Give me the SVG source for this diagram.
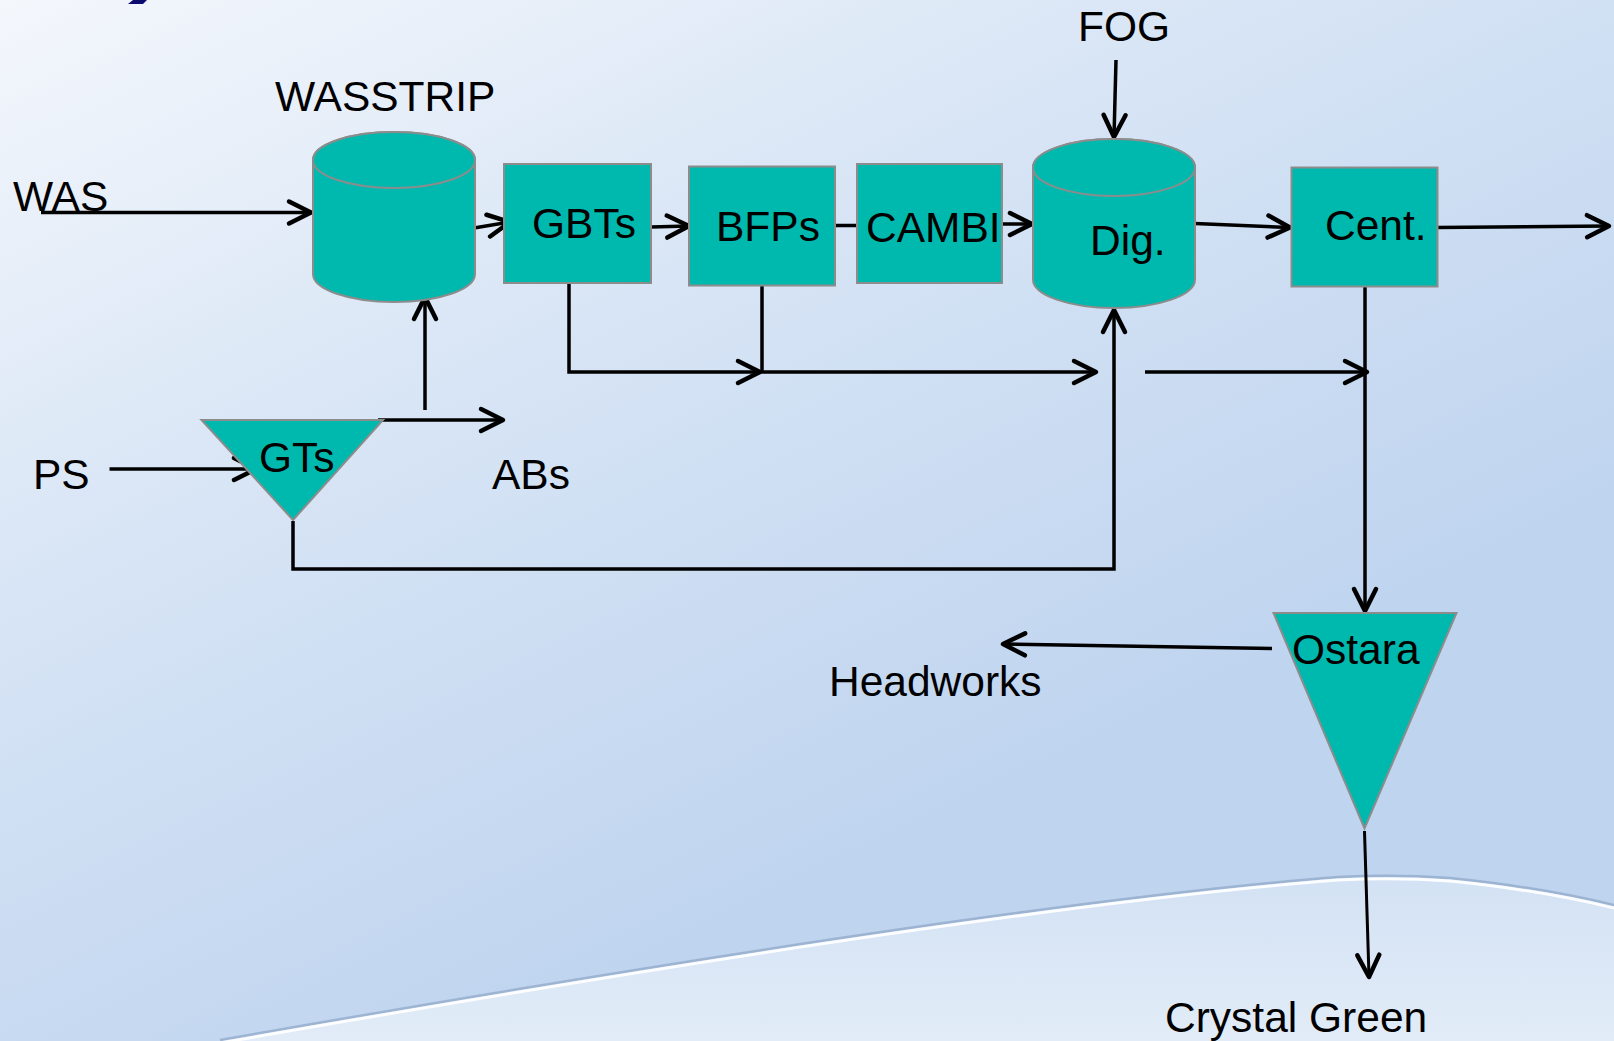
<svg xmlns="http://www.w3.org/2000/svg" width="1614" height="1041" viewBox="0 0 1614 1041">
<defs>
<linearGradient id="bg" x1="0" y1="0" x2="500" y2="1041" gradientUnits="userSpaceOnUse">
<stop offset="0" stop-color="#f4f7fc"/>
<stop offset="0.5" stop-color="#d6e4f5"/>
<stop offset="1" stop-color="#bfd4ef"/>
</linearGradient>
<linearGradient id="low" x1="0" y1="880" x2="0" y2="1041" gradientUnits="userSpaceOnUse">
<stop offset="0" stop-color="#d3e2f4"/>
<stop offset="1" stop-color="#e2ecf8"/>
</linearGradient>
<marker id="ah" markerUnits="userSpaceOnUse" markerWidth="40" markerHeight="40" viewBox="-30 -20 40 40" refX="0" refY="0" orient="auto" overflow="visible">
<path d="M-22,-11 L0,0 L-22,11" fill="none" stroke="#000" stroke-width="4.5" stroke-linecap="round" stroke-linejoin="round"/>
</marker>
</defs>
<style>
.shape{fill:#00b9ae;stroke:#8c8c8c;stroke-width:2}
.t{font-family:"Liberation Sans",Arial,sans-serif;font-size:42.5px;fill:#000}
.c{fill:none;stroke:#000;stroke-width:3.5}
.a{marker-end:url(#ah)}
</style>
<rect x="0" y="0" width="1614" height="1041" fill="url(#bg)"/>
<path d="M220,1043 Q995,907 1338,880 Q1395,877 1450,881 Q1540,890 1614,908 L1614,1041 Z" fill="url(#low)"/>
<path d="M220,1040 Q995,904 1338,877 Q1395,874 1450,878 Q1540,887 1614,905" fill="none" stroke="#93abcb" stroke-width="2.5" opacity="0.8"/>
<path d="M220,1043 Q995,907 1338,880 Q1395,877 1450,881 Q1540,890 1614,908" fill="none" stroke="#ffffff" stroke-width="3" opacity="0.95"/>
<polygon points="128,4 133,0 147,0 143,4" fill="#0b0b70"/>

<g id="connectors">
<path class="c a" d="M41,212.5 L311,212.5"/>
<path class="c a" d="M474,228 L510,222"/>
<path class="c a" d="M651,227 L689,226"/>
<path class="c" d="M835,225.5 L857,225.5"/>
<path class="c a" d="M1002,224 L1032,224"/>
<path class="c a" d="M1116,60 L1114,137"/>
<path class="c a" d="M1195,223.5 L1290,227.5"/>
<path class="c a" d="M1437,227.5 L1609,226"/>
<path class="c a" d="M569,283 L569,372 L760,372"/>
<path class="c a" d="M762,285.5 L762,372 L1096,372"/>
<path class="c a" d="M1145,372 L1367,372"/>
<path class="c a" d="M1365,286.5 L1365,611"/>
<path class="c a" d="M425,410 L425,297"/>
<path class="c a" d="M378,420 L503,420"/>
<path class="c a" d="M109.5,469 L256,469"/>
<path class="c a" d="M293,521 L293,569 L1114,569 L1114,310"/>
<path class="c a" d="M1272,648.5 L1003,644"/>
<path class="c a" d="M1364.5,831 L1369,977" style="stroke-width:3"/>
</g>

<g id="wasstrip">
<path class="shape" d="M313,160 L313,274 A81,28 0 0 0 475,274 L475,160 A81,28 0 0 0 313,160 Z"/>
<ellipse class="shape" cx="394" cy="160" rx="81" ry="28"/>
<text class="t" x="275" y="111">WASSTRIP</text>
</g>
<g id="was"><text class="t" x="13" y="211">WAS</text></g>
<g id="gbts">
<rect class="shape" x="504" y="164" width="147" height="119"/>
<text class="t" x="532" y="238">GBTs</text>
</g>
<g id="bfps">
<rect class="shape" x="689" y="166.5" width="146" height="119"/>
<text class="t" x="716" y="241">BFPs</text>
</g>
<g id="cambi">
<rect class="shape" x="857" y="164" width="145" height="119"/>
<text class="t" x="866" y="242">CAMBI</text>
</g>
<g id="dig">
<path class="shape" d="M1033,167.5 L1033,279.5 A81,28.5 0 0 0 1195,279.5 L1195,167.5 A81,28.5 0 0 0 1033,167.5 Z"/>
<ellipse class="shape" cx="1114" cy="167.5" rx="81" ry="28.5"/>
<text class="t" x="1090" y="255">Dig.</text>
</g>
<g id="fog"><text class="t" x="1078" y="41">FOG</text></g>
<g id="cent">
<rect class="shape" x="1291.5" y="167.5" width="146" height="119"/>
<text class="t" x="1325" y="240">Cent.</text>
</g>
<g id="gts">
<polygon class="shape" points="201.5,420 383,420 293,520"/>
<text class="t" x="259" y="472">GTs</text>
</g>
<g id="ps"><text class="t" x="33" y="489">PS</text></g>
<g id="abs"><text class="t" x="492" y="489">ABs</text></g>
<g id="ostara">
<polygon class="shape" points="1273.5,613 1456.5,613 1364.5,828.5"/>
<text class="t" x="1292" y="664">Ostara</text>
</g>
<g id="headworks"><text class="t" x="829" y="696">Headworks</text></g>
<g id="crystal-green"><text class="t" x="1165" y="1032">Crystal Green</text></g>
</svg>
